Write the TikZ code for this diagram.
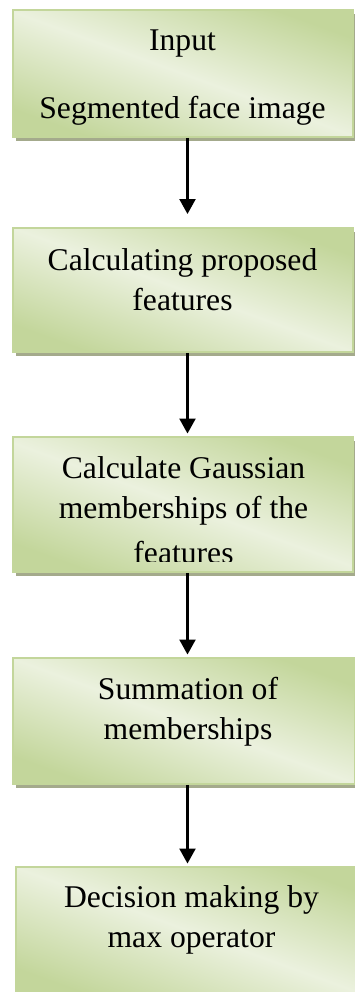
\documentclass[tikz,border=0pt]{standalone}
\usepackage{fontspec}
\setmainfont{Liberation Serif}
\usetikzlibrary{arrows.meta,shadows}
\definecolor{olivedark}{HTML}{C3D69B}
\definecolor{olivelight}{HTML}{EBF1DE}
\definecolor{oliveshadow}{HTML}{A4AA8C}

\begin{document}
\begin{tikzpicture}[x=0.02cm,y=-0.02cm,
    stage/.style={draw=olivedark,line width=0.04cm,
      top color=olivedark,bottom color=olivedark,middle color=olivelight,shading angle=-20,
      drop shadow={shadow xshift=0.06cm,shadow yshift=-0.08cm,fill=oliveshadow,opacity=1},
      minimum width=6.79cm,inner sep=0pt},
    words/.style={font=\fontsize{18}{22.76}\selectfont,align=center,anchor=base,inner sep=0pt},
    flow/.style={-{Triangle[width=0.32cm,length=0.3cm]},line width=0.045cm}]
\useasboundingbox (0,0) rectangle (355,992);
\node[stage,minimum height=2.54cm] (inputbox) at (182.85, 73.5) {};
\node[stage,minimum height=2.49cm] (featbox)  at (182.85,289.75) {};
\node[stage,minimum height=2.7cm]  (gaussbox) at (183  ,504.5) {};
\node[stage,minimum height=2.52cm,minimum width=6.84cm] (sumbox)  at (184  ,721  ) {};
\node[stage,minimum height=2.6cm, minimum width=7.08cm] (decibox) at (193  ,932  ) {};

\node[words] (inputtext) at (182.5,118) {Input\\[0.56cm]Segmented face image};
\node[words] (feattext)  at (182.5,310) {Calculating proposed\\features};
\begin{scope}
\clip (gaussbox.north west) rectangle (355,561);
\node[words] (gausstext) at (183.5,563) {Calculate Gaussian\\memberships of the\\[0.1cm]features};
\end{scope}
\node[words] (sumtext)   at (188  ,739) {Summation of\\memberships};
\node[words] (decitext)  at (191.5,947) {Decision making by\\max operator};

\coordinate (spine) at (187.5,0);
\draw[flow,shorten >=0.25cm] (inputbox.south -| spine) -- (featbox.north -| spine);
\draw[flow,shorten >=0.05cm] (featbox.south -| spine)  -- (gaussbox.north -| spine);
\draw[flow,shorten >=0.05cm] (gaussbox.south -| spine) -- (sumbox.north -| spine);
\draw[flow,shorten >=0.05cm] (sumbox.south -| spine)   -- (decibox.north -| spine);
\end{tikzpicture}
\end{document}
